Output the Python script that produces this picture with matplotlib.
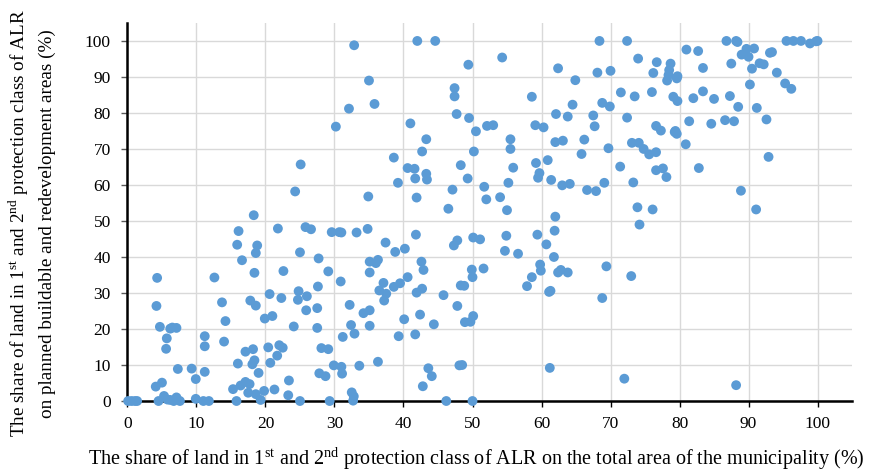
import matplotlib.pyplot as plt
import numpy as np

# share of ALR class 1+2 land on municipality area (%)
x_total = [
    18.3, 16.1, 21.8, 15.9, 18.8, 18.6, 16.6, 18.4, 22.6, 4.3, 12.6, 20.6, 22.3, 4.2, 13.7, 17.8, 18.6,
    14.2, 19.9, 21.0, 4.7, 6.2, 6.5, 7.1, 5.7, 5.6, 11.2, 11.2, 14.0, 17.1, 18.2, 20.4, 22.0, 22.5,
    21.7, 20.7, 16.0, 18.4, 18.1, 19.0, 7.3, 9.3, 9.9, 11.2, 5.0, 4.1, 15.3, 16.4, 17.1, 17.7, 17.5,
    18.6, 19.3, 19.8, 21.3, 23.4, 23.3, 15.8, 9.9, 11.0, 11.8, 4.5, 5.3, 5.8, 6.2, 6.7, 7.1, 7.6,
    0.1, 0.6, 1.1, 1.4,
    32.85, 42.0, 44.6, 35.0, 47.4, 47.4, 32.1, 35.8, 47.7, 30.2, 41.0, 43.3, 42.7, 25.1, 38.6, 40.6,
    41.6, 43.3, 41.7, 43.4, 48.3, 39.2, 24.3, 34.9, 41.9, 47.1, 46.5,
    25.8, 26.6, 29.6, 30.7, 31.0, 33.2, 34.8, 41.8, 37.4, 47.3, 47.8, 38.8, 40.2, 25.0, 27.7, 29.1,
    35.1, 36.3, 36.0, 35.1, 42.6, 42.9, 30.9, 37.1, 38.6, 39.5, 40.6, 36.5, 37.5, 37.2, 41.9, 42.7,
    45.8, 47.8, 48.3, 24.8, 24.7, 26.0, 27.6, 25.9, 27.5, 32.2, 34.2, 35.1, 42.4, 24.1, 27.5, 32.4,
    35.1, 40.1, 44.4, 31.2, 32.9, 39.3, 41.7, 28.1, 29.1, 29.9, 31.0, 31.1, 27.8, 28.7, 33.6, 36.3,
    43.6, 44.1, 42.8, 48.1, 25.0, 29.3, 32.5, 32.8, 32.7, 46.2,
    68.4, 72.4, 74.0, 54.3, 49.4, 62.4, 68.1, 70.0, 64.9, 71.5, 73.5, 58.6, 68.8, 69.9, 64.5, 49.5,
    62.1, 63.8, 67.5, 72.4, 67.7, 52.1, 53.0, 50.5, 59.1, 60.3, 55.5, 55.5, 62.0, 63.1, 66.2, 73.1,
    74.1, 69.7, 65.8, 50.2, 49.3, 55.9, 59.2, 60.9, 59.7, 59.5, 61.4, 63.0, 64.1, 66.6, 67.9, 69.1,
    71.4, 73.3, 73.9, 51.7, 55.2, 52.0, 54.0, 55.0, 62.0,
    74.2, 61.9, 50.1, 51.1, 54.9, 59.4, 60.7, 54.7, 56.6, 61.8, 49.9, 51.6, 50.0, 48.8, 59.8, 59.9,
    58.6, 57.9, 62.4, 62.8, 63.8, 61.1, 61.3, 69.4, 73.0, 68.8, 50.1, 48.9, 49.7, 48.5, 61.2, 72.0,
    50.0,
    86.8, 88.2, 88.4, 95.5, 96.5, 97.6, 98.9, 99.8, 100.0, 81.0, 82.7, 89.7, 90.8, 89.0, 90.0, 93.4,
    93.1, 76.7, 78.7, 78.5, 78.4, 78.2, 79.7, 79.6, 76.2, 83.4, 87.5, 91.6, 92.2, 90.5, 94.1, 90.2,
    95.3, 96.2, 76.0, 79.1, 79.7, 82.0, 83.4, 85.0, 87.3, 88.5, 91.2, 92.6, 81.4, 84.6, 86.6, 87.9,
    76.6, 77.3, 79.3, 79.6, 79.4, 80.9, 74.8, 75.6, 76.6, 76.6, 77.6, 78.1, 82.8, 92.9, 88.9, 76.1,
    91.1, 88.2,
]

# share of ALR class 1+2 land on planned buildable/redevelopment areas (%)
y_planned = [
    51.6, 47.2, 47.9, 43.4, 43.2, 41.1, 39.1, 35.6, 36.1, 34.2, 34.3, 29.7, 28.6, 26.4, 27.4, 27.9, 26.5,
    22.2, 22.9, 23.6, 20.6, 20.1, 20.4, 20.3, 17.4, 14.5, 18.0, 15.2, 16.5, 13.7, 14.4, 14.9, 15.5, 14.8,
    12.6, 10.6, 10.4, 11.3, 10.2, 7.8, 8.9, 9.0, 6.1, 8.1, 5.1, 4.0, 3.3, 4.3, 5.3, 4.7, 2.3,
    1.9, 0.3, 2.8, 3.2, 5.7, 1.6, 0.0, 0.6, 0.0, 0.0, 0.0, 1.4, 0.4, 0.3, 0.0, 1.0, 0.0,
    0.0, 0.0, 0.0, 0.0,
    98.8, 100.0, 100.0, 89.0, 86.9, 84.6, 81.2, 82.5, 79.7, 76.2, 77.1, 72.7, 69.3, 65.7, 67.6, 64.7,
    64.5, 63.1, 61.8, 61.5, 65.5, 60.6, 58.2, 56.8, 56.5, 58.7, 53.4,
    48.3, 47.7, 46.9, 46.9, 46.8, 46.8, 47.8, 46.2, 44.0, 43.2, 44.6, 41.4, 42.3, 41.3, 39.6, 36.0,
    38.7, 39.2, 38.3, 35.7, 38.7, 36.4, 33.2, 32.8, 31.7, 32.7, 34.4, 30.7, 29.8, 27.9, 30.1, 31.2,
    29.4, 26.4, 32.1, 30.5, 28.1, 29.1, 31.8, 25.2, 25.8, 26.7, 24.4, 25.2, 24.0, 20.7, 20.3, 21.1,
    20.9, 22.7, 21.3, 17.8, 18.7, 18.0, 18.5, 14.7, 14.4, 9.9, 9.5, 7.6, 7.7, 6.9, 9.8, 10.9,
    9.1, 6.9, 4.1, 9.9, 0.0, 0.0, 2.4, 1.3, 0.1, 0.0,
    100.0, 100.0, 95.1, 95.4, 93.4, 92.4, 91.2, 91.7, 89.1, 85.7, 84.6, 84.5, 82.8, 81.8, 82.3, 78.6,
    79.7, 79.0, 79.3, 78.7, 76.3, 76.4, 76.6, 74.9, 76.6, 76.0, 72.7, 70.0, 71.9, 72.3, 72.6, 71.7,
    71.7, 70.2, 68.6, 69.3, 61.8, 64.8, 66.1, 66.9, 63.3, 62.0, 61.4, 59.9, 60.3, 58.6, 58.3, 60.6,
    65.1, 60.7, 53.8, 59.5, 60.6, 56.0, 56.6, 53.0, 51.2,
    49.0, 47.3, 45.4, 44.9, 45.9, 46.2, 43.5, 41.7, 40.9, 40.0, 36.5, 36.8, 34.4, 32.0, 37.9, 36.2,
    34.4, 31.9, 35.7, 36.4, 35.7, 30.3, 30.6, 37.4, 34.7, 28.6, 23.6, 21.9, 22.0, 10.0, 9.2, 6.2,
    0.0,
    100.0, 100.0, 99.7, 100.0, 100.0, 100.0, 99.3, 99.9, 100.0, 97.6, 97.2, 97.8, 97.9, 96.2, 95.6, 96.9,
    96.7, 94.1, 93.7, 91.9, 90.5, 89.0, 90.2, 89.6, 91.1, 92.5, 93.7, 93.8, 93.5, 92.3, 91.2, 87.9,
    88.2, 86.7, 85.8, 84.5, 83.3, 84.1, 86.0, 83.9, 84.7, 81.7, 81.4, 78.2, 77.7, 77.0, 78.0, 77.7,
    76.4, 75.1, 74.7, 74.2, 75.0, 71.3, 70.0, 68.5, 69.1, 64.1, 64.6, 62.2, 64.7, 67.8, 58.4, 53.2,
    53.2, 4.4,
]

plt.rcParams['font.family'] = 'Liberation Serif'
plt.rcParams['mathtext.fontset'] = 'custom'
plt.rcParams['mathtext.rm'] = 'Liberation Serif'

fig = plt.figure(figsize=(8.73, 4.72), dpi=100)
ax = fig.add_axes([0.146, 0.1504, 0.83, 0.801])

ax.scatter(x_total, y_planned, s=50, color='#5b9bd5', edgecolors='none', zorder=3, clip_on=False)

ax.set_xlim(0, 105)
ax.set_ylim(0, 105)
ax.set_xticks(np.arange(0, 101, 10))
ax.set_yticks(np.arange(0, 101, 10))
ax.grid(True, color='#d9d9d9', linewidth=1)
ax.set_axisbelow(True)

for s in ['top', 'right']:
    ax.spines[s].set_visible(False)
for s in ['left', 'bottom']:
    ax.spines[s].set_linewidth(1.8)
    ax.spines[s].set_color('black')

ax.tick_params(axis='x', length=4, width=1, pad=7, labelsize=12.5)
ax.tick_params(axis='y', length=4, width=1, color='#595959', pad=8, labelsize=12.5)

ax.set_xlabel('The share of land in 1$^{\\mathrm{st}}$ and 2$^{\\mathrm{nd}}$ protection class of ALR '
              'on the total area of the municipality (%)', fontsize=14.5)
ax.xaxis.label.set_verticalalignment('center')
ax.xaxis.set_label_coords(0.482, -0.153)

ax.set_ylabel('The share of land in 1$^{\\mathrm{st}}$ and 2$^{\\mathrm{nd}}$ protection class of ALR\n'
              'on planned buildable and redevelopment areas (%)', fontsize=13.8,
              linespacing=1.6)
ax.yaxis.label.set_verticalalignment('center')
ax.yaxis.set_label_coords(-0.133, 0.47)

plt.savefig('out.png', dpi=100)
